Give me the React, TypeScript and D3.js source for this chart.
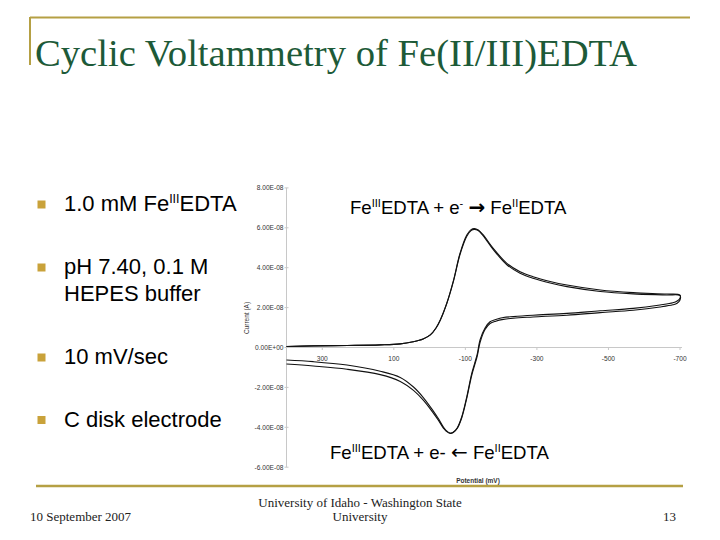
import React from "react";
import * as d3 from "d3";

// ---- Data (potential in mV, current in units of 1e-8 A) ----
const forwardPotential = [400, 325, 230, 138, 82, 46, 18, -2, -18, -30, -48, -67, -85, -104, -116, -125, -136, -150, -178, -216, -253, -289, -337, -384, -477, -569, -663, -700];
const forwardCurrent1 = [0.05, 0.08, 0.10, 0.13, 0.18, 0.29, 0.43, 0.63, 0.98, 1.38, 2.22, 3.38, 4.72, 5.64, 5.91, 5.96, 5.89, 5.64, 4.97, 4.22, 3.80, 3.55, 3.31, 3.13, 2.88, 2.75, 2.68, 2.63];
const forwardCurrent2 = [0.05, 0.08, 0.10, 0.13, 0.18, 0.29, 0.43, 0.63, 0.98, 1.38, 2.20, 3.34, 4.66, 5.58, 5.86, 5.92, 5.86, 5.60, 4.91, 4.15, 3.72, 3.47, 3.23, 3.05, 2.81, 2.69, 2.63, 2.60];

const reversePotential = [-700, -692, -680, -644, -569, -477, -384, -289, -234, -206, -185, -169, -155, -141, -133, -118, -104, -90, -77, -66, -58, -46, -39, -24, -11, 17, 45, 82, 138, 231, 325, 400];
const reverseCurrent1 = [2.47, 2.33, 2.24, 2.13, 1.96, 1.84, 1.71, 1.62, 1.55, 1.50, 1.40, 1.29, 0.98, 0.38, -0.35, -1.29, -2.47, -3.47, -4.04, -4.26, -4.31, -4.19, -4.05, -3.63, -3.30, -2.65, -2.15, -1.70, -1.36, -1.09, -0.93, -0.83];
const reverseCurrent2 = [2.38, 2.22, 2.14, 2.03, 1.87, 1.75, 1.62, 1.53, 1.47, 1.41, 1.32, 1.20, 0.90, 0.25, -0.45, -1.38, -2.54, -3.52, -4.06, -4.25, -4.29, -4.15, -4.00, -3.55, -3.20, -2.52, -1.98, -1.50, -1.19, -0.88, -0.71, -0.63];

const xTicks = [300, 100, -100, -300, -500, -700];
const yTicks = [8e-8, 6e-8, 4e-8, 2e-8, 0, -2e-8, -4e-8, -6e-8];
const yTickLabels = ["8.00E-08", "6.00E-08", "4.00E-08", "2.00E-08", "0.00E+00", "-2.00E-08", "-4.00E-08", "-6.00E-08"];

const bullets = [
  { lines: [["1.0 mM Fe", "III", "EDTA"]] },
  { lines: [["pH 7.40, 0.1 M"], ["HEPES buffer"]] },
  { lines: [["10 mV/sec"]] },
  { lines: [["C disk electrode"]] },
];
const bulletBaselines = [211, 274, 364, 426.5];

const GOLD = "#b5a044";
const BULLET = "#c9a23a";
const GREEN = "#1d5a38";

export default function App() {
  const x = d3.scaleLinear().domain([400, -700]).range([286.5, 680]);
  const y = d3.scaleLinear().domain([-6e-8, 8e-8]).range([467.2, 187.9]);

  const line = d3
    .line<[number, number]>()
    .x((d) => x(d[0]))
    .y((d) => y(d[1] * 1e-8))
    .curve(d3.curveCatmullRom.alpha(0.5));

  const cycle = (fc: number[], rc: number[]) => [
    ...forwardPotential.map((p, i) => [p, fc[i]] as [number, number]),
    ...reversePotential.map((p, i) => [p, rc[i]] as [number, number]),
  ];
  const c1 = cycle(forwardCurrent1, reverseCurrent1);
  const c2 = cycle(forwardCurrent2, reverseCurrent2);

  const sans = "'Liberation Sans', Arial, sans-serif";
  const serif = "'Liberation Serif', 'Times New Roman', serif";
  const x0 = x(400);
  const y0 = y(0);

  return (
    <svg width={720} height={540} style={{ position: "absolute", left: 0, top: 0, background: "#fff" }}>
      <rect x={0} y={0} width={720} height={540} fill="#fff" />
      {/* slide decorations */}
      <line x1={30} x2={690} y1={17.5} y2={17.5} stroke={GOLD} strokeWidth={2} />
      <line x1={30} x2={30} y1={17} y2={65} stroke={GOLD} strokeWidth={2} />
      <line x1={36} x2={683} y1={486} y2={486} stroke={GOLD} strokeWidth={2.5} />
      <text x={35} y={66} fontFamily={serif} fontSize={38.5} fill={GREEN} textLength={602} lengthAdjust="spacingAndGlyphs">
        Cyclic Voltammetry of Fe(II/III)EDTA
      </text>

      {/* bullets */}
      {bullets.map((b, i) => (
        <g key={i}>
          <rect x={37.5} y={bulletBaselines[i] - 10.5} width={8} height={8} fill={BULLET} />
          {b.lines.map((ln, j) => (
            <text key={j} x={64} y={bulletBaselines[i] + j * 27} fontFamily={sans} fontSize={22} fill="#000">
              {ln.length === 1 ? (
                ln[0]
              ) : (
                <>
                  <tspan>{ln[0]}</tspan>
                  <tspan fontSize={12.5} dy={-8}>{ln[1]}</tspan>
                  <tspan dy={8}>{ln[2]}</tspan>
                </>
              )}
            </text>
          ))}
        </g>
      ))}

      {/* axes */}
      <line x1={x0} x2={x0} y1={y(8e-8)} y2={y(-6e-8)} stroke="#c8c8c8" strokeWidth={1} />
      <line x1={x0} x2={x(-700) + 2} y1={y0} y2={y0} stroke="#c8c8c8" strokeWidth={1} />
      {yTicks.map((t, i) => (
        <g key={t}>
          <line x1={x0 - 2} x2={x0 + 2} y1={y(t)} y2={y(t)} stroke="#c8c8c8" />
          <text x={x0 - 3} y={y(t) + 2.3} textAnchor="end" fontFamily={sans} fontSize={6.6} fill="#333">
            {yTickLabels[i]}
          </text>
        </g>
      ))}
      {xTicks.map((t) => (
        <g key={t}>
          <line x1={x(t)} x2={x(t)} y1={y0} y2={y0 + 2.5} stroke="#c8c8c8" />
          <text x={x(t)} y={y0 + 13} textAnchor="middle" fontFamily={sans} fontSize={6.6} fill="#333">
            {t}
          </text>
        </g>
      ))}
      <text x={478} y={482.5} textAnchor="middle" fontFamily={sans} fontSize={6.5} fontWeight="bold" fill="#333">
        Potential (mV)
      </text>
      <text transform="translate(249,318) rotate(-90)" textAnchor="middle" fontFamily={sans} fontSize={6.5} fill="#333">
        Current (A)
      </text>

      {/* curves */}
      <path d={line(c1) ?? ""} fill="none" stroke="#111" strokeWidth={1.1} />
      <path d={line(c2) ?? ""} fill="none" stroke="#111" strokeWidth={1.1} />

      {/* annotations */}
      <text x={350} y={213.5} fontFamily={sans} fontSize={18.6} fill="#000">
        <tspan>Fe</tspan>
        <tspan fontSize={11} dy={-7}>III</tspan>
        <tspan dy={7}>EDTA + e</tspan>
        <tspan fontSize={11} dy={-7}>-</tspan>
        <tspan dy={7}> </tspan>
        <tspan fontFamily="'DejaVu Sans'" fontWeight="bold" fontSize={20}>→</tspan>
        <tspan> Fe</tspan>
        <tspan fontSize={11} dy={-7}>II</tspan>
        <tspan dy={7}>EDTA</tspan>
      </text>
      <text x={330} y={459} fontFamily={sans} fontSize={18.6} fill="#000">
        <tspan>Fe</tspan>
        <tspan fontSize={11} dy={-7}>III</tspan>
        <tspan dy={7}>EDTA + e- </tspan>
        <tspan fontFamily="'DejaVu Sans'" fontSize={20}>←</tspan>
        <tspan> Fe</tspan>
        <tspan fontSize={11} dy={-7}>II</tspan>
        <tspan dy={7}>EDTA</tspan>
      </text>

      {/* footer */}
      <text x={30} y={521} fontFamily={serif} fontSize={13} fill="#222">10 September 2007</text>
      <text x={360} y={507} textAnchor="middle" fontFamily={serif} fontSize={13} fill="#222">
        University of Idaho - Washington State
      </text>
      <text x={360} y={521} textAnchor="middle" fontFamily={serif} fontSize={13} fill="#222">University</text>
      <text x={676} y={521} textAnchor="end" fontFamily={serif} fontSize={13} fill="#222">13</text>
    </svg>
  );
}
